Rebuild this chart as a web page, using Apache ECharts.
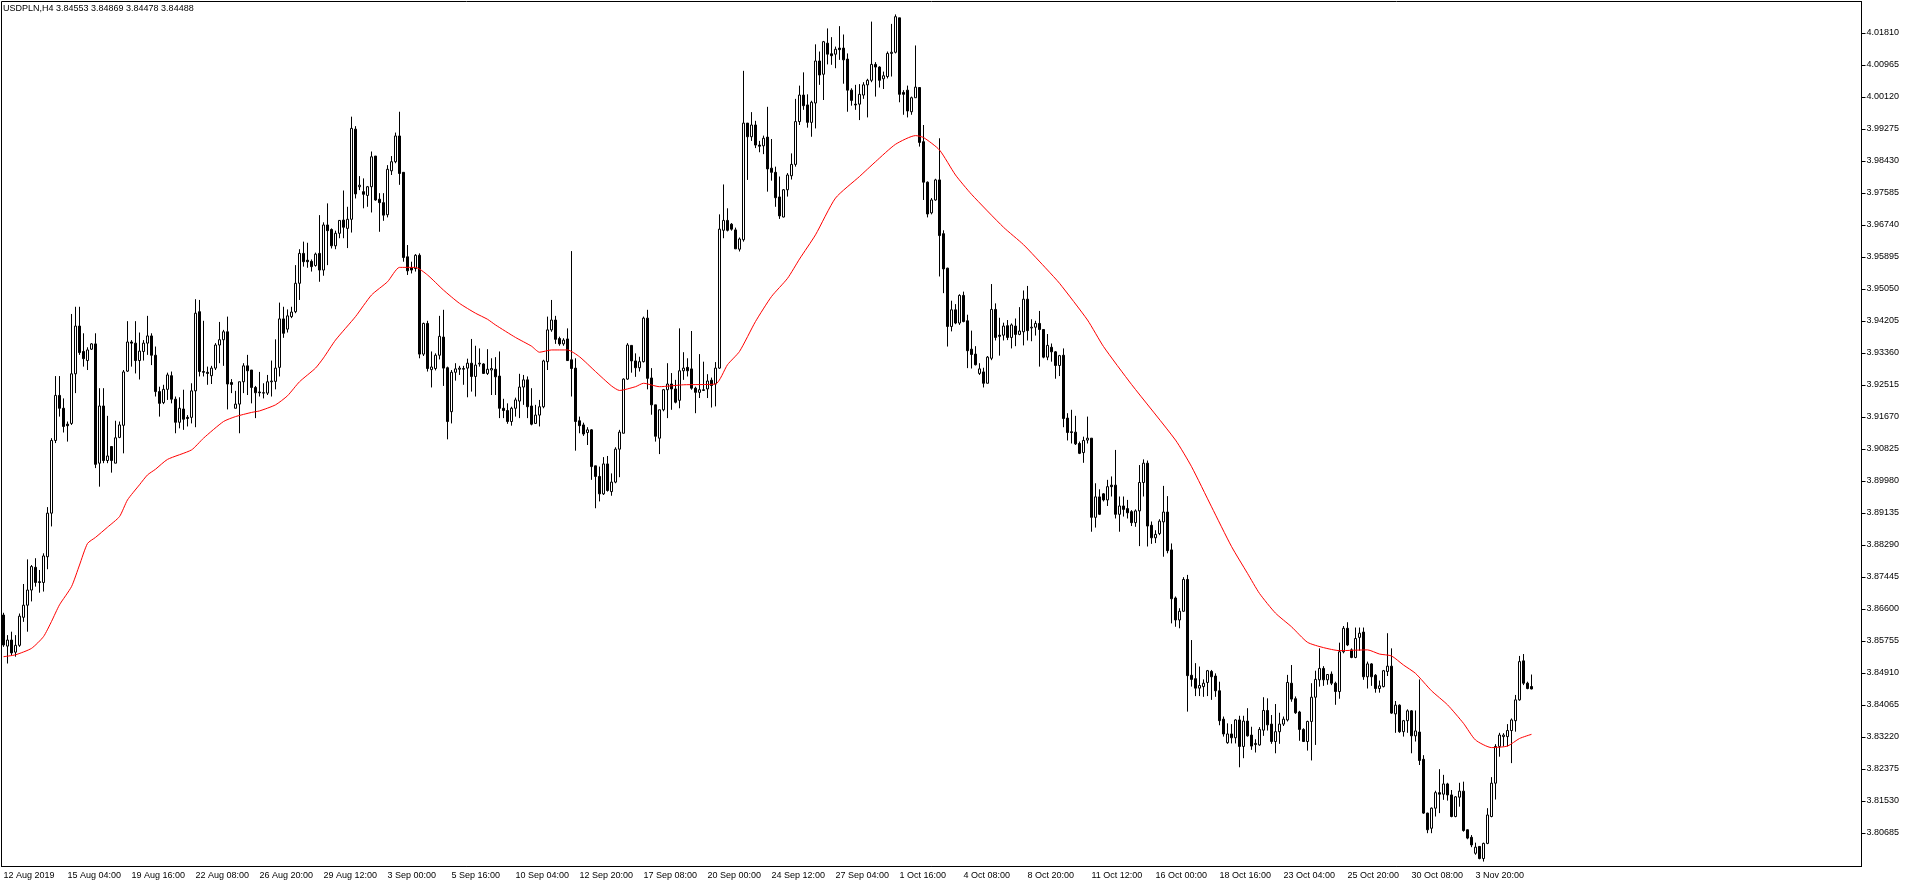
<!DOCTYPE html>
<html lang="en">
<head>
    <meta charset="UTF-8">
    <title>USDPLN,H4</title>
    <script src="https://cdn.jsdelivr.net/npm/echarts@6.0.0/dist/echarts.min.js"></script>
    <style>
        body,
        html {
            padding: 0;
            margin: 0;
            background: #fff;
        }
    </style>
</head>
<body>
    <div style="width:1916px;height:888px;" id='chart'></div>
    <script>
        var symbolName = 'USDPLN,H4';

        // bottom axis: one label every 16 H4 bars
        var xTickLabels = ['12 Aug 2019', '15 Aug 04:00', '19 Aug 16:00', '22 Aug 08:00', '26 Aug 20:00',
            '29 Aug 12:00', '3 Sep 00:00', '5 Sep 16:00', '10 Sep 04:00', '12 Sep 20:00', '17 Sep 08:00',
            '20 Sep 00:00', '24 Sep 12:00', '27 Sep 04:00', '1 Oct 16:00', '4 Oct 08:00', '8 Oct 20:00',
            '11 Oct 12:00', '16 Oct 00:00', '18 Oct 16:00', '23 Oct 04:00', '25 Oct 20:00', '30 Oct 08:00',
            '3 Nov 20:00'];
        var barsPerLabel = 16;
        var totalSlots = 465; // bars + empty space on the right

        var yTicks = [4.01810, 4.00965, 4.00120, 3.99275, 3.98430, 3.97585, 3.96740, 3.95895, 3.95050,
            3.94205, 3.93360, 3.92515, 3.91670, 3.90825, 3.89980, 3.89135, 3.88290, 3.87445, 3.86600,
            3.85755, 3.84910, 3.84065, 3.83220, 3.82375, 3.81530, 3.80685];

        var opens = [
            3.8644, 3.8562, 3.8578, 3.8546, 3.8564, 3.8638, 3.8670, 3.8710, 3.8770, 3.8732,
            3.8730, 3.8798, 3.8913, 3.9105, 3.9224, 3.9190, 3.9148, 3.9150, 3.9281, 3.9407,
            3.9340, 3.9316, 3.9346, 3.9360, 3.9045, 3.9196, 3.9052, 3.9089, 3.9045, 3.9113,
            3.9145, 3.9288, 3.9365, 3.9362, 3.9316, 3.9340, 3.9362, 3.9381, 3.9330, 3.9234,
            3.9205, 3.9240, 3.9276, 3.9214, 3.9153, 3.9188, 3.9166, 3.9166, 3.9236, 3.9445,
            3.9287, 3.9285, 3.9276, 3.9296, 3.9357, 3.9371, 3.9392, 3.9258, 3.9190, 3.9201,
            3.9260, 3.9302, 3.9291, 3.9245, 3.9233, 3.9231, 3.9230, 3.9260, 3.9261, 3.9298,
            3.9426, 3.9399, 3.9432, 3.9445, 3.9520, 3.9599, 3.9581, 3.9578, 3.9567, 3.9599,
            3.9555, 3.9674, 3.9662, 3.9619, 3.9652, 3.9687, 3.9665, 3.9689, 3.9927, 3.9775,
            3.9762, 3.9752, 3.9775, 3.9856, 3.9742, 3.9733, 3.9701, 3.9817, 3.9841, 3.9909,
            3.9813, 3.9590, 3.9561, 3.9559, 3.9594, 3.9333, 3.9414, 3.9292, 3.9295, 3.9330,
            3.9378, 3.9297, 3.9181, 3.9285, 3.9293, 3.9293, 3.9296, 3.9309, 3.9274, 3.9307,
            3.9307, 3.9282, 3.9291, 3.9293, 3.9275, 3.9190, 3.9184, 3.9155, 3.9190, 3.9209,
            3.9246, 3.9265, 3.9196, 3.9150, 3.9172, 3.9194, 3.9313, 3.9397, 3.9423, 3.9374,
            3.9360, 3.9373, 3.9318, 3.9296, 3.9157, 3.9146, 3.9126, 3.9133, 3.9038, 3.9010,
            3.8964, 3.9043, 3.8970, 3.8995, 3.9082, 3.9124, 3.9267, 3.9356, 3.9315, 3.9297,
            3.9313, 3.9428, 3.9270, 3.9199, 3.9111, 3.9186, 3.9239, 3.9254, 3.9241, 3.9211,
            3.9289, 3.9298, 3.9294, 3.9243, 3.9232, 3.9237, 3.9241, 3.9264, 3.9254, 3.9296,
            3.9660, 3.9686, 3.9676, 3.9661, 3.9610, 3.9635, 3.9943, 3.9907, 3.9938, 3.9885,
            3.9883, 3.9906, 3.9824, 3.9813, 3.9748, 3.9695, 3.9767, 3.9804, 3.9834, 3.9947,
            4.0017, 3.9991, 3.9945, 3.9996, 4.0107, 4.0072, 4.0154, 4.0126, 4.0125, 4.0141,
            4.0141, 4.0112, 4.0030, 3.9993, 3.9993, 4.0017, 4.0044, 4.0056, 4.0098, 4.0091,
            4.0060, 4.0066, 4.0127, 4.0130, 4.0221, 4.0024, 4.0030, 3.9973, 4.0010, 4.0037,
            3.9894, 3.9787, 3.9706, 3.9740, 3.9793, 3.9651, 3.9560, 3.9406, 3.9450, 3.9415,
            3.9488, 3.9421, 3.9346, 3.9333, 3.9282, 3.9286, 3.9256, 3.9322, 3.9451, 3.9383,
            3.9383, 3.9408, 3.9377, 3.9407, 3.9385, 3.9392, 3.9478, 3.9402, 3.9404, 3.9414,
            3.9398, 3.9325, 3.9351, 3.9339, 3.9303, 3.9330, 3.9164, 3.9128, 3.9127, 3.9097,
            3.9073, 3.9106, 3.9111, 3.8902, 3.8956, 3.8964, 3.8948, 3.8987, 3.8987, 3.8910,
            3.8932, 3.8925, 3.8917, 3.8888, 3.8919, 3.8994, 3.9045, 3.8881, 3.8848, 3.8859,
            3.8890, 3.8916, 3.8816, 3.8689, 3.8631, 3.8654, 3.8738, 3.8485, 3.8476, 3.8451,
            3.8455, 3.8466, 3.8495, 3.8483, 3.8444, 3.8369, 3.8307, 3.8330, 3.8320, 3.8367,
            3.8297, 3.8364, 3.8327, 3.8302, 3.8301, 3.8340, 3.8392, 3.8356, 3.8310, 3.8336,
            3.8356, 3.8367, 3.8464, 3.8423, 3.8388, 3.8342, 3.8310, 3.8363, 3.8427, 3.8473,
            3.8503, 3.8473, 3.8488, 3.8464, 3.8442, 3.8547, 3.8609, 3.8552, 3.8532, 3.8585,
            3.8599, 3.8481, 3.8515, 3.8485, 3.8450, 3.8455, 3.8495, 3.8509, 3.8383, 3.8406,
            3.8336, 3.8365, 3.8391, 3.8325, 3.8335, 3.8263, 3.8121, 3.8081, 3.8134, 3.8175,
            3.8171, 3.8198, 3.8169, 3.8112, 3.8163, 3.8179, 3.8077, 3.8057, 3.8015, 3.8033,
            3.8001, 3.8041, 3.8112, 3.8200, 3.8297, 3.8323, 3.8323, 3.8339, 3.8365, 3.8420,
            3.8523, 3.8464, 3.84553
        ];
        var closes = [
            3.8565, 3.8578, 3.8544, 3.8564, 3.8641, 3.8670, 3.8710, 3.8772, 3.8730, 3.8730,
            3.8800, 3.8913, 3.9105, 3.9224, 3.9190, 3.9142, 3.9144, 3.9281, 3.9407, 3.9337,
            3.9321, 3.9344, 3.9360, 3.9042, 3.9196, 3.9052, 3.9064, 3.9052, 3.9112, 3.9146,
            3.9286, 3.9365, 3.9362, 3.9316, 3.9341, 3.9362, 3.9381, 3.9330, 3.9234, 3.9203,
            3.9240, 3.9278, 3.9214, 3.9153, 3.9190, 3.9161, 3.9163, 3.9236, 3.9441, 3.9287,
            3.9285, 3.9282, 3.9296, 3.9357, 3.9371, 3.9392, 3.9254, 3.9253, 3.9201, 3.9260,
            3.9302, 3.9289, 3.9245, 3.9231, 3.9231, 3.9230, 3.9260, 3.9262, 3.9296, 3.9426,
            3.9388, 3.9434, 3.9444, 3.9520, 3.9599, 3.9577, 3.9577, 3.9564, 3.9597, 3.9555,
            3.9674, 3.9659, 3.9619, 3.9652, 3.9686, 3.9668, 3.9689, 3.9929, 3.9756, 3.9779,
            3.9755, 3.9775, 3.9854, 3.9740, 3.9733, 3.9700, 3.9821, 3.9841, 3.9909, 3.9810,
            3.9588, 3.9553, 3.9555, 3.9594, 3.9333, 3.9414, 3.9295, 3.9299, 3.9330, 3.9380,
            3.9296, 3.9155, 3.9285, 3.9294, 3.9296, 3.9295, 3.9309, 3.9274, 3.9304, 3.9309,
            3.9282, 3.9293, 3.9295, 3.9273, 3.9190, 3.9184, 3.9155, 3.9190, 3.9212, 3.9246,
            3.9265, 3.9194, 3.9148, 3.9172, 3.9194, 3.9315, 3.9397, 3.9423, 3.9372, 3.9360,
            3.9370, 3.9316, 3.9295, 3.9155, 3.9144, 3.9122, 3.9133, 3.9036, 3.9010, 3.8964,
            3.9043, 3.8973, 3.8995, 3.9082, 3.9127, 3.9267, 3.9357, 3.9315, 3.9297, 3.9313,
            3.9428, 3.9269, 3.9199, 3.9116, 3.9186, 3.9239, 3.9254, 3.9241, 3.9206, 3.9289,
            3.9296, 3.9289, 3.9243, 3.9232, 3.9239, 3.9239, 3.9262, 3.9250, 3.9296, 3.9663,
            3.9686, 3.9660, 3.9663, 3.9611, 3.9637, 3.9943, 3.9907, 3.9938, 3.9885, 3.9882,
            3.9903, 3.9822, 3.9813, 3.9746, 3.9698, 3.9767, 3.9806, 3.9834, 3.9947, 4.0017,
            3.9989, 3.9945, 3.9998, 4.0107, 4.0070, 4.0158, 4.0125, 4.0121, 4.0138, 4.0137,
            4.0110, 4.0030, 4.0003, 3.9991, 4.0019, 4.0044, 4.0056, 4.0098, 4.0091, 4.0056,
            4.0068, 4.0127, 4.0130, 4.0224, 4.0019, 4.0019, 3.9975, 4.0010, 4.0038, 3.9892,
            3.9787, 3.9703, 3.9740, 3.9793, 3.9646, 3.9558, 3.9406, 3.9450, 3.9415, 3.9488,
            3.9419, 3.9342, 3.9332, 3.9305, 3.9294, 3.9256, 3.9325, 3.9451, 3.9377, 3.9380,
            3.9407, 3.9377, 3.9410, 3.9385, 3.9394, 3.9478, 3.9395, 3.9404, 3.9414, 3.9398,
            3.9325, 3.9356, 3.9339, 3.9303, 3.9329, 3.9163, 3.9126, 3.9126, 3.9096, 3.9071,
            3.9105, 3.9111, 3.8902, 3.8956, 3.8910, 3.8948, 3.8983, 3.8983, 3.8910, 3.8932,
            3.8923, 3.8914, 3.8888, 3.8919, 3.8994, 3.9045, 3.8879, 3.8848, 3.8857, 3.8892,
            3.8916, 3.8814, 3.8687, 3.8631, 3.8654, 3.8738, 3.8484, 3.8474, 3.8451, 3.8458,
            3.8464, 3.8497, 3.8481, 3.8444, 3.8365, 3.8330, 3.8330, 3.8320, 3.8367, 3.8297,
            3.8364, 3.8325, 3.8298, 3.8305, 3.8342, 3.8392, 3.8354, 3.8310, 3.8336, 3.8356,
            3.8369, 3.8466, 3.8422, 3.8386, 3.8342, 3.8310, 3.8363, 3.8427, 3.8474, 3.8503,
            3.8473, 3.8487, 3.8464, 3.8442, 3.8547, 3.8609, 3.8565, 3.8532, 3.8582, 3.8596,
            3.8481, 3.8515, 3.8481, 3.8450, 3.8457, 3.8497, 3.8509, 3.8385, 3.8406, 3.8336,
            3.8365, 3.8391, 3.8325, 3.8338, 3.8260, 3.8121, 3.8077, 3.8134, 3.8175, 3.8171,
            3.8198, 3.8169, 3.8112, 3.8164, 3.8179, 3.8075, 3.8055, 3.8037, 3.8031, 3.8001,
            3.8041, 3.8116, 3.8200, 3.8297, 3.8327, 3.8327, 3.8339, 3.8367, 3.8420, 3.8521,
            3.8464, 3.8450, 3.84488
        ];
        var lows = [
            3.8560, 3.8516, 3.8538, 3.8534, 3.8560, 3.8626, 3.8600, 3.8680, 3.8719, 3.8703,
            3.8706, 3.8765, 3.8878, 3.9098, 3.9168, 3.9126, 3.9102, 3.9146, 3.9230, 3.9331,
            3.9300, 3.9291, 3.9344, 3.9032, 3.8983, 3.9045, 3.9045, 3.9020, 3.9045, 3.9111,
            3.9071, 3.9286, 3.9300, 3.9282, 3.9266, 3.9316, 3.9331, 3.9304, 3.9221, 3.9168,
            3.9201, 3.9212, 3.9203, 3.9124, 3.9137, 3.9133, 3.9142, 3.9150, 3.9140, 3.9274,
            3.9274, 3.9252, 3.9254, 3.9291, 3.9309, 3.9302, 3.9187, 3.9230, 3.9190, 3.9124,
            3.9230, 3.9225, 3.9203, 3.9164, 3.9221, 3.9216, 3.9225, 3.9221, 3.9240, 3.9274,
            3.9376, 3.9390, 3.9428, 3.9441, 3.9476, 3.9564, 3.9561, 3.9551, 3.9564, 3.9524,
            3.9540, 3.9568, 3.9612, 3.9610, 3.9639, 3.9639, 3.9613, 3.9654, 3.9744, 3.9766,
            3.9718, 3.9722, 3.9707, 3.9738, 3.9656, 3.9685, 3.9694, 3.9806, 3.9837, 3.9780,
            3.9577, 3.9542, 3.9546, 3.9551, 3.9322, 3.9328, 3.9287, 3.9245, 3.9290, 3.9319,
            3.9249, 3.9108, 3.9150, 3.9263, 3.9278, 3.9252, 3.9219, 3.9234, 3.9221, 3.9300,
            3.9281, 3.9278, 3.9225, 3.9225, 3.9164, 3.9164, 3.9149, 3.9144, 3.9168, 3.9164,
            3.9199, 3.9164, 3.9145, 3.9149, 3.9142, 3.9190, 3.9291, 3.9392, 3.9360, 3.9355,
            3.9355, 3.9316, 3.9221, 3.9078, 3.9124, 3.9117, 3.9093, 3.9001, 3.8926, 3.8944,
            3.8961, 3.8970, 3.8959, 3.8992, 3.9008, 3.9124, 3.9265, 3.9284, 3.9273, 3.9287,
            3.9311, 3.9240, 3.9173, 3.9102, 3.9069, 3.9182, 3.9164, 3.9186, 3.9203, 3.9190,
            3.9265, 3.9274, 3.9239, 3.9177, 3.9217, 3.9236, 3.9217, 3.9192, 3.9195, 3.9294,
            3.9639, 3.9657, 3.9659, 3.9611, 3.9604, 3.9630, 3.9793, 3.9896, 3.9877, 3.9866,
            3.9861, 3.9762, 3.9791, 3.9722, 3.9690, 3.9694, 3.9749, 3.9794, 3.9828, 3.9938,
            3.9978, 3.9931, 3.9907, 3.9929, 4.0044, 4.0004, 4.0098, 4.0097, 4.0088, 4.0110,
            4.0047, 3.9973, 3.9989, 3.9978, 3.9951, 4.0007, 3.9958, 4.0051, 4.0013, 4.0037,
            4.0033, 4.0061, 4.0066, 4.0127, 3.9998, 3.9965, 3.9958, 3.9965, 4.0010, 3.9881,
            3.9740, 3.9694, 3.9702, 3.9738, 3.9538, 3.9494, 3.9353, 3.9393, 3.9412, 3.9410,
            3.9417, 3.9296, 3.9295, 3.9303, 3.9278, 3.9245, 3.9256, 3.9317, 3.9369, 3.9329,
            3.9369, 3.9370, 3.9348, 3.9354, 3.9383, 3.9356, 3.9369, 3.9367, 3.9382, 3.9300,
            3.9322, 3.9317, 3.9313, 3.9268, 3.9275, 3.9140, 3.9105, 3.9097, 3.9093, 3.9069,
            3.9046, 3.9097, 3.8864, 3.8875, 3.8908, 3.8944, 3.8932, 3.8957, 3.8899, 3.8864,
            3.8904, 3.8899, 3.8879, 3.8877, 3.8826, 3.8957, 3.8825, 3.8832, 3.8834, 3.8855,
            3.8798, 3.8807, 3.8622, 3.8613, 3.8609, 3.8653, 3.8389, 3.8455, 3.8430, 3.8430,
            3.8428, 3.8430, 3.8420, 3.8428, 3.8353, 3.8323, 3.8304, 3.8305, 3.8305, 3.8242,
            3.8266, 3.8323, 3.8288, 3.8281, 3.8299, 3.8325, 3.8339, 3.8304, 3.8279, 3.8304,
            3.8351, 3.8363, 3.8415, 3.8383, 3.8312, 3.8309, 3.8286, 3.8260, 3.8301, 3.8455,
            3.8457, 3.8460, 3.8459, 3.8407, 3.8423, 3.8543, 3.8562, 3.8530, 3.8530, 3.8550,
            3.8473, 3.8450, 3.8457, 3.8439, 3.8439, 3.8453, 3.8483, 3.8383, 3.8333, 3.8333,
            3.8323, 3.8333, 3.8279, 3.8310, 3.8248, 3.8119, 3.8068, 3.8068, 3.8112, 3.8121,
            3.8156, 3.8154, 3.8110, 3.8110, 3.8138, 3.8072, 3.8052, 3.8031, 3.8011, 3.7999,
            3.7993, 3.8039, 3.8110, 3.8157, 3.8270, 3.8297, 3.8297, 3.8253, 3.8336, 3.8418,
            3.8459, 3.8448, 3.84478
        ];
        var highs = [
            3.8650, 3.8591, 3.8600, 3.8591, 3.8648, 3.8726, 3.8791, 3.8776, 3.8794, 3.8763,
            3.8807, 3.8929, 3.9111, 3.9275, 3.9275, 3.9216, 3.9155, 3.9439, 3.9458, 3.9458,
            3.9388, 3.9351, 3.9362, 3.9388, 3.9243, 3.9243, 3.9170, 3.9089, 3.9157, 3.9155,
            3.9291, 3.9420, 3.9370, 3.9420, 3.9390, 3.9370, 3.9434, 3.9388, 3.9353, 3.9247,
            3.9252, 3.9284, 3.9287, 3.9221, 3.9219, 3.9239, 3.9172, 3.9256, 3.9478, 3.9476,
            3.9421, 3.9300, 3.9302, 3.9362, 3.9418, 3.9397, 3.9432, 3.9267, 3.9236, 3.9260,
            3.9309, 3.9331, 3.9291, 3.9249, 3.9286, 3.9256, 3.9278, 3.9316, 3.9372, 3.9469,
            3.9458, 3.9451, 3.9458, 3.9568, 3.9610, 3.9630, 3.9627, 3.9583, 3.9601, 3.9700,
            3.9681, 3.9731, 3.9665, 3.9659, 3.9687, 3.9765, 3.9722, 3.9960, 3.9935, 3.9803,
            3.9797, 3.9777, 3.9868, 3.9856, 3.9758, 3.9758, 3.9832, 3.9856, 3.9918, 3.9973,
            3.9813, 3.9621, 3.9577, 3.9597, 3.9599, 3.9416, 3.9421, 3.9340, 3.9335, 3.9434,
            3.9450, 3.9300, 3.9291, 3.9309, 3.9302, 3.9302, 3.9321, 3.9373, 3.9355, 3.9348,
            3.9309, 3.9346, 3.9322, 3.9325, 3.9340, 3.9215, 3.9203, 3.9194, 3.9218, 3.9281,
            3.9278, 3.9274, 3.9243, 3.9199, 3.9212, 3.9318, 3.9432, 3.9476, 3.9434, 3.9379,
            3.9375, 3.9401, 3.9605, 3.9322, 3.9168, 3.9152, 3.9140, 3.9135, 3.9038, 3.9036,
            3.9061, 3.9064, 3.9018, 3.9087, 3.9133, 3.9269, 3.9362, 3.9356, 3.9335, 3.9326,
            3.9432, 3.9450, 3.9296, 3.9199, 3.9186, 3.9241, 3.9309, 3.9283, 3.9265, 3.9401,
            3.9338, 3.9322, 3.9394, 3.9247, 3.9333, 3.9313, 3.9280, 3.9271, 3.9312, 3.9702,
            3.9781, 3.9718, 3.9679, 3.9667, 3.9641, 4.0081, 3.9943, 3.9972, 3.9949, 3.9896,
            3.9910, 3.9986, 3.9901, 3.9828, 3.9802, 3.9769, 3.9811, 3.9863, 4.0007, 4.0042,
            4.0077, 4.0019, 4.0002, 4.0151, 4.0132, 4.0160, 4.0193, 4.0170, 4.0145, 4.0199,
            4.0177, 4.0127, 4.0035, 4.0044, 4.0046, 4.0051, 4.0060, 4.0211, 4.0104, 4.0093,
            4.0079, 4.0132, 4.0205, 4.0230, 4.0221, 4.0030, 4.0042, 4.0013, 4.0148, 4.0037,
            3.9938, 3.9789, 3.9745, 3.9796, 3.9903, 3.9660, 3.9561, 3.9474, 3.9465, 3.9491,
            3.9498, 3.9437, 3.9395, 3.9354, 3.9309, 3.9297, 3.9328, 3.9518, 3.9467, 3.9429,
            3.9416, 3.9423, 3.9414, 3.9427, 3.9457, 3.9501, 3.9513, 3.9425, 3.9421, 3.9447,
            3.9398, 3.9386, 3.9361, 3.9341, 3.9331, 3.9348, 3.9177, 3.9186, 3.9170, 3.9102,
            3.9115, 3.9168, 3.9111, 3.8992, 3.8976, 3.8966, 3.9001, 3.9010, 3.9080, 3.8957,
            3.8957, 3.8948, 3.8921, 3.8923, 3.9040, 3.9055, 3.9052, 3.8891, 3.8868, 3.8897,
            3.8985, 3.8958, 3.8833, 3.8693, 3.8662, 3.8744, 3.8750, 3.8578, 3.8517, 3.8508,
            3.8474, 3.8499, 3.8499, 3.8490, 3.8468, 3.8376, 3.8358, 3.8356, 3.8369, 3.8378,
            3.8378, 3.8398, 3.8349, 3.8316, 3.8348, 3.8427, 3.8424, 3.8380, 3.8409, 3.8386,
            3.8376, 3.8486, 3.8512, 3.8429, 3.8391, 3.8345, 3.8365, 3.8464, 3.8497, 3.8556,
            3.8509, 3.8488, 3.8495, 3.8468, 3.8571, 3.8615, 3.8625, 3.8556, 3.8611, 3.8611,
            3.8611, 3.8521, 3.8517, 3.8488, 3.8471, 3.8499, 3.8596, 3.8556, 3.8417, 3.8408,
            3.8367, 3.8395, 3.8393, 3.8392, 3.8474, 3.8274, 3.8122, 3.8136, 3.8180, 3.8237,
            3.8222, 3.8201, 3.8182, 3.8166, 3.8201, 3.8204, 3.8078, 3.8063, 3.8043, 3.8034,
            3.8043, 3.8134, 3.8216, 3.8303, 3.8333, 3.8332, 3.8356, 3.8371, 3.8433, 3.8536,
            3.8541, 3.8468, 3.84869
        ];

        // red moving average at these bars
        var maBars = [0, 3, 7, 10, 12, 14, 17, 19, 21, 23, 26, 29, 31, 34, 36, 38, 41, 47, 50, 55,
            58, 62, 64, 68, 71, 74, 78, 80, 83, 88, 92, 96, 99, 103, 106, 110, 114, 118, 121, 123,
            128, 132, 134, 137, 141, 144, 148, 152, 154, 158, 160, 164, 170, 178, 181, 184, 188, 192, 196, 199,
            203, 208, 214, 218, 223, 228, 230, 234, 238, 242, 250, 255, 261, 264, 271, 275, 282, 293, 297, 302,
            307, 311, 314, 318, 322, 326, 330, 334, 341, 344, 347, 350, 353, 357, 361, 365, 368, 372, 376, 379,
            382];
        var maValues = [3.8534, 3.8539, 3.8556, 3.8587, 3.8627, 3.8671, 3.8719, 3.8776, 3.8833, 3.8849,
            3.8876, 3.8904, 3.8948, 3.8988, 3.9014, 3.9029, 3.9055, 3.9080, 3.9111, 3.9155,
            3.9168, 3.9179, 3.9183, 3.9199, 3.9223, 3.9260, 3.9296, 3.9323, 3.9370, 3.9432,
            3.9489, 3.9524, 3.9562, 3.9562, 3.9542, 3.9502, 3.9467, 3.9441, 3.9425, 3.9410,
            3.9377, 3.9354, 3.9338, 3.9344, 3.9344, 3.9326, 3.9287, 3.9249, 3.9237, 3.9247,
            3.9256, 3.9247, 3.9252, 3.9254, 3.9305, 3.9340, 3.9419, 3.9485, 3.9533, 3.9584,
            3.9648, 3.9745, 3.9802, 3.9841, 3.9887, 3.9910, 3.9905, 3.9872, 3.9806, 3.9755,
            3.9668, 3.9622, 3.9555, 3.9520, 3.9423, 3.9353, 3.9253, 3.9106, 3.9036, 3.8930,
            3.8825, 3.8754, 3.8701, 3.8649, 3.8613, 3.8572, 3.8558, 3.8550, 3.8552, 3.8541,
            3.8536, 3.8512, 3.8490, 3.8444, 3.8407, 3.8358, 3.8314, 3.8294, 3.8298, 3.8318,
            3.8329];

        var last = opens.length - 1;
        var titleText = symbolName + ' ' + [opens[last], highs[last], lows[last], closes[last]]
            .map(function (v) { return v.toFixed(5); }).join(' ');

        var categories = [];
        for (var i = 0; i < totalSlots; i++) categories.push(String(i));

        var candles = opens.map(function (o, i) {
            return [o, closes[i], lows[i], highs[i]];
        });
        var maLine = maBars.map(function (b, k) {
            return [b, maValues[k]];
        });

        function showTick(i) {
            return i % barsPerLabel === 0 && i / barsPerLabel < xTickLabels.length;
        }

        var font = 'Liberation Sans';
        var myChart = echarts.init(document.getElementById('chart'));
        myChart.setOption({
            animation: false,
            backgroundColor: '#fff',
            title: {
                text: titleText,
                left: 3,
                top: 4,
                padding: 0,
                textStyle: {
                    fontFamily: font,
                    fontSize: 9,
                    fontWeight: 'normal',
                    color: '#000'
                }
            },
            grid: {
                left: 1.5,
                top: 1.5,
                width: 1860,
                height: 865,
                show: true,
                backgroundColor: '#fff',
                borderColor: '#000',
                borderWidth: 1
            },
            xAxis: {
                type: 'category',
                data: categories,
                boundaryGap: true,
                axisLine: { lineStyle: { color: '#000', width: 1 } },
                axisTick: {
                    interval: showTick,
                    length: 3,
                    lineStyle: { color: '#000' }
                },
                axisLabel: {
                    interval: showTick,
                    formatter: function (v, i) {
                        return xTickLabels[i / barsPerLabel] || '';
                    },
                    align: 'left',
                    margin: 5,
                    color: '#000',
                    fontFamily: font,
                    fontSize: 9
                },
                splitLine: { show: false }
            },
            yAxis: {
                type: 'value',
                position: 'right',
                min: 3.79800,
                max: 4.02641,
                axisLine: { show: true, lineStyle: { color: '#000', width: 1 } },
                axisTick: {
                    show: true,
                    customValues: yTicks,
                    length: 4,
                    lineStyle: { color: '#000' }
                },
                axisLabel: {
                    customValues: yTicks,
                    formatter: function (v) { return v.toFixed(5); },
                    margin: 5,
                    color: '#000',
                    fontFamily: font,
                    fontSize: 9
                },
                splitLine: { show: false }
            },
            series: [{
                type: 'candlestick',
                data: candles,
                barWidth: 2,
                silent: true,
                itemStyle: {
                    color: '#ffffff',
                    color0: '#000000',
                    borderColor: '#000000',
                    borderColor0: '#000000',
                    borderWidth: 1
                }
            }, {
                type: 'line',
                data: maLine,
                symbol: 'none',
                smooth: 0.2,
                silent: true,
                lineStyle: { color: '#ff0000', width: 1 }
            }]
        });
    </script>
</body>
</html>
